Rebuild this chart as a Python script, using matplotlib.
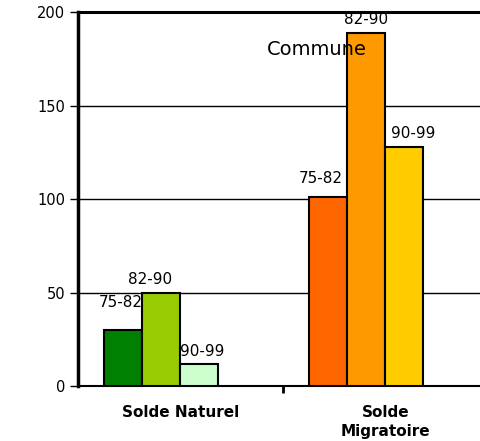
import numpy as np
import matplotlib.pyplot as plt

categories = ["Solde Naturel", "Solde\nMigratoire"]
periods = ["75-82", "82-90", "90-99"]
naturel = [30, 50, 12]
migratoire = [101, 189, 128]
yticks = [0, 50, 100, 150, 200]

colors_nat = ["#008000", "#99CC00", "#CCFFCC"]
colors_mig = ["#FF6600", "#FF9900", "#FFCC00"]
# label offsets (points) relative to bar top centre
off_nat = [(-2, 14), (-8, 4), (2, 3)]
off_mig = [(-5, 8), (0, 4), (7, 4)]

plt.rcParams['font.family'] = ['DejaVu Sans']

fig = plt.figure(figsize=(4.8, 4.41), dpi=100)
ax = fig.add_axes([0.1625, 0.1247, 0.854, 0.848])

w = 0.185
shift = -0.095
x = np.arange(len(categories)) + shift
for i, p in enumerate(periods):
    xi = x + (i - 1) * w
    vals = [naturel[i], migratoire[i]]
    cols = [colors_nat[i], colors_mig[i]]
    ax.bar(xi, vals, width=w, color=cols, edgecolor="black", linewidth=1.5, zorder=3)
    for j, (xx, v) in enumerate(zip(xi, vals)):
        off = off_nat[i] if j == 0 else off_mig[i]
        ax.annotate(p, (xx, v), xytext=off, textcoords="offset points",
                    ha="center", va="bottom", fontsize=11, zorder=5)

ax.text(0.665, 180, "Commune", ha="center", va="center", fontsize=14, zorder=6)

ax.set_xlim(-0.5, 1.5)
ax.set_ylim(0, 200)
ax.set_yticks(yticks)
ax.set_yticklabels([str(t) for t in yticks], fontsize=10.5)
ax.yaxis.grid(True, color="black", linewidth=1, zorder=0)
ax.set_axisbelow(True)
ax.tick_params(axis="y", length=6, width=1, pad=3)

ax.set_xticks([0, 1])
ax.set_xticklabels(categories, fontsize=11, fontweight="bold", linespacing=1.3)
ax.tick_params(axis="x", length=0, pad=14)
ax.set_xticks([0.5], minor=True)
ax.tick_params(axis="x", which="minor", length=5, width=2)

ax.spines["left"].set_linewidth(2.5)
ax.spines["top"].set_linewidth(2.2)
ax.spines["bottom"].set_linewidth(1.5)
ax.spines["right"].set_visible(False)

fig.savefig("out.png", dpi=100)
